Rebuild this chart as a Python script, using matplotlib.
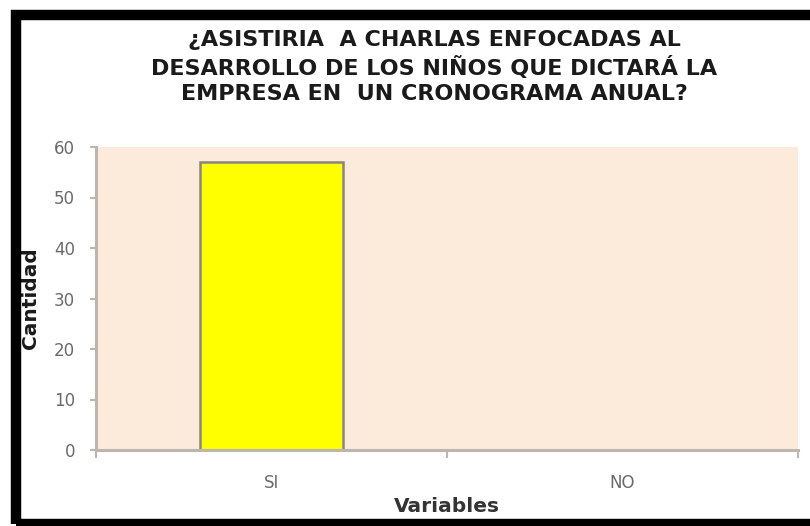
import numpy as np
import matplotlib.pyplot as plt
from matplotlib.patches import Rectangle

# data
categories = ['SI', 'NO']
counts = [57, 0]
y_ticks = [0, 10, 20, 30, 40, 50, 60]
title = '¿ASISTIRIA  A CHARLAS ENFOCADAS AL\nDESARROLLO DE LOS NIÑOS QUE DICTARÁ LA\nEMPRESA EN  UN CRONOGRAMA ANUAL?'

plt.rcParams['font.family'] = ['DejaVu Sans']

W, H = 810.0, 526.0
fig = plt.figure(figsize=(W / 100, H / 100), dpi=100)
fig.patch.set_facecolor('white')

# black frame around the chart (cut off on the right like the reference)
frame = Rectangle((16 / W, 2 / H), 1.2, 509 / H, transform=fig.transFigure,
                  fill=False, edgecolor='black', linewidth=7.5, clip_on=False)
fig.patches.append(frame)

ax = fig.add_axes([96 / W, 1 - 450 / H, (798 - 96) / W, (450 - 147) / H])
ax.set_facecolor('#FCEADB')

x = np.arange(len(categories))
ax.bar(x, counts, width=0.41, color='#FFFF00', edgecolor='#8C857A', linewidth=1.8, zorder=2)

ax.set_xlim(-0.5, len(categories) - 0.5)
ax.set_ylim(0, 60)
ax.set_yticks(y_ticks)
ax.set_xticks(x)
ax.set_xticklabels(categories)
ax.set_xticks(np.arange(len(categories) + 1) - 0.5, minor=True)

for s in ['top', 'right']:
    ax.spines[s].set_visible(False)
for s in ['left', 'bottom']:
    ax.spines[s].set_color('#BDB6AE')
    ax.spines[s].set_linewidth(2.2)
    ax.spines[s].set_zorder(2.5)

ax.tick_params(axis='y', colors='#BDB6AE', labelcolor='#6A6A6A', length=4, width=1.5,
               labelsize=12, pad=11)
ax.tick_params(axis='x', which='major', length=0, labelcolor='#6A6A6A', labelsize=12, pad=17)
ax.tick_params(axis='x', which='minor', colors='#BDB6AE', length=6, width=1.5)

ax.set_ylabel('Cantidad', fontsize=14.5, fontweight='bold', color='#1A1A1A')
ax.yaxis.set_label_coords(-0.08, 0.5)
ax.set_xlabel('Variables', fontsize=14.5, fontweight='bold', color='#333333', va='top')
ax.xaxis.set_label_coords(0.5, -0.155)

fig.text(0.536, 1 - 67 / H, title, ha='center', va='center', fontsize=16,
         fontweight='bold', color='#1A1A1A', linespacing=1.3)

fig.savefig('out.png', dpi=100)
